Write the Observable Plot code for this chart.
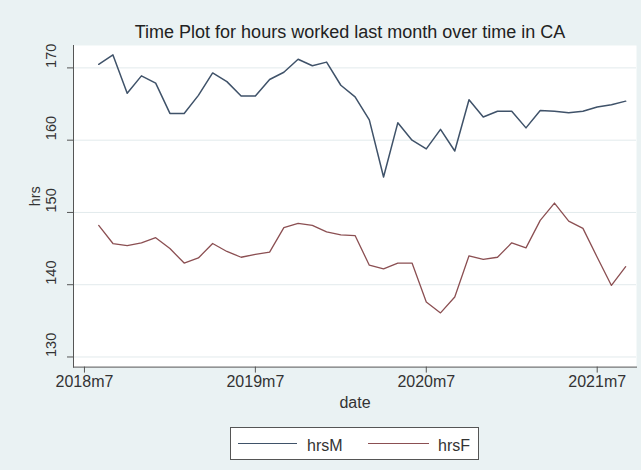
<!DOCTYPE html>
<html>
<head>
<meta charset="utf-8">
<script src="https://cdn.jsdelivr.net/npm/d3@7"></script>
<script src="https://cdn.jsdelivr.net/npm/@observablehq/plot@0.6"></script>
<style>
  html, body { margin: 0; padding: 0; background: #eaf2f3; }
  #chart { position: relative; width: 641px; height: 470px; background: #eaf2f3; overflow: hidden;
           font-family: "Liberation Sans", Arial, sans-serif; }
  #chart > svg { position: absolute; left: 0; top: 0; }
  #legend { position: absolute; left: 230px; top: 427px; width: 249px; height: 33px;
            box-sizing: border-box; border: 1px solid #555; background: #fff; }
  #legend svg { display: block; }
</style>
</head>
<body>
<div id="chart"></div>
<script>
// Monthly average hours worked last month, California, by sex
const dates = [
  "2018m8", "2018m9", "2018m10", "2018m11", "2018m12",
  "2019m1", "2019m2", "2019m3", "2019m4", "2019m5", "2019m6",
  "2019m7", "2019m8", "2019m9", "2019m10", "2019m11", "2019m12",
  "2020m1", "2020m2", "2020m3", "2020m4", "2020m5", "2020m6",
  "2020m7", "2020m8", "2020m9", "2020m10", "2020m11", "2020m12",
  "2021m1", "2021m2", "2021m3", "2021m4", "2021m5", "2021m6",
  "2021m7", "2021m8", "2021m9"
];
const hrsM = [
  170.5, 171.8, 166.5, 168.9, 167.9,
  163.7, 163.7, 166.2, 169.3, 168.1, 166.1,
  166.1, 168.4, 169.4, 171.2, 170.3, 170.8,
  167.6, 166.0, 162.8, 154.9, 162.4, 160.0,
  158.8, 161.5, 158.5, 165.6, 163.2, 164.0,
  164.0, 161.7, 164.1, 164.0, 163.8, 164.0,
  164.6, 164.9, 165.4
];
const hrsF = [
  148.2, 145.7, 145.4, 145.8, 146.5,
  145.0, 143.0, 143.7, 145.7, 144.6, 143.8,
  144.2, 144.5, 147.9, 148.5, 148.2, 147.3,
  146.9, 146.8, 142.7, 142.2, 143.0, 143.0,
  137.6, 136.1, 138.3, 144.0, 143.5, 143.8,
  145.8, 145.1, 148.9, 151.3, 148.8, 147.8,
  143.8, 139.9, 142.5
];
const xTickLabels = ["2018m7", "2019m7", "2020m7", "2021m7"];
const yTicks = [130, 140, 150, 160, 170];

const titleText = "Time Plot for hours worked last month over time in CA";
const colorM = "#3f5269";
const colorF = "#8b4f52";
const font = "Liberation Sans, Arial, sans-serif";

// Stata-style %tm month number
const monthIndex = s => { const [y, m] = s.split("m").map(Number); return y * 12 + m - 1; };
const rows = dates.map((d, i) => ({t: monthIndex(d), M: hrsM[i], F: hrsF[i]}));
const xTicks = xTickLabels.map(monthIndex);
const t0 = monthIndex(xTickLabels[0]);

const chart = Plot.plot({
  width: 641,
  height: 470,
  marginTop: 45,
  marginBottom: 103.4,
  marginLeft: 73,
  marginRight: 5,
  style: {background: "transparent", fontFamily: font, color: "#333", overflow: "visible"},
  x: {type: "linear", domain: [t0 - 0.77, t0 + 38.76], axis: null},
  y: {domain: [128.6, 173.1], axis: null},
  marks: [
    Plot.frame({fill: "#fff", stroke: null}),
    Plot.ruleY(yTicks, {stroke: "#e2eaec", strokeWidth: 1}),
    Plot.line(rows, {x: "t", y: "M", stroke: colorM, strokeWidth: 1.5}),
    Plot.line(rows, {x: "t", y: "F", stroke: colorF, strokeWidth: 1.3}),
    Plot.frame({anchor: "bottom", stroke: "#555"}),
    Plot.frame({anchor: "left", stroke: "#555"}),
    Plot.axisY(yTicks, {anchor: "left", tickSize: 6, stroke: "#555", tickFormat: () => "", label: null}),
    Plot.text(yTicks, {y: d => d, text: d => String(d), frameAnchor: "left", dx: -22,
                       rotate: -90, fontSize: 14.5, fill: "#333"}),
    Plot.text(["hrs"], {frameAnchor: "left", dx: -38, rotate: -90, fontSize: 14.5, fill: "#333"}),
    Plot.axisX(xTicks, {anchor: "bottom", tickSize: 6, tickPadding: 3, stroke: "#555",
                        tickFormat: (d, i) => xTickLabels[i], fontSize: 16, fill: "#333", label: null}),
    Plot.text(["date"], {frameAnchor: "bottom", dy: 41, fontSize: 16, fill: "#333"}),
    Plot.text([titleText], {frameAnchor: "top", dx: -5, dy: -20, fontSize: 18, fill: "#222"})
  ]
});
document.getElementById("chart").appendChild(chart);

// Legend box below the x axis
const legend = document.createElement("div");
legend.id = "legend";
legend.innerHTML = `
<svg width="247" height="31" xmlns="http://www.w3.org/2000/svg" style="font-family:${font}">
  <line x1="7" x2="66" y1="15.5" y2="15.5" stroke="${colorM}" stroke-width="1.2"/>
  <text x="76" y="23" font-size="16" fill="#333">hrsM</text>
  <line x1="137" x2="198" y1="15.5" y2="15.5" stroke="${colorF}" stroke-width="1.2"/>
  <text x="207" y="23" font-size="16" fill="#333">hrsF</text>
</svg>`;
document.getElementById("chart").appendChild(legend);
</script>
</body>
</html>
